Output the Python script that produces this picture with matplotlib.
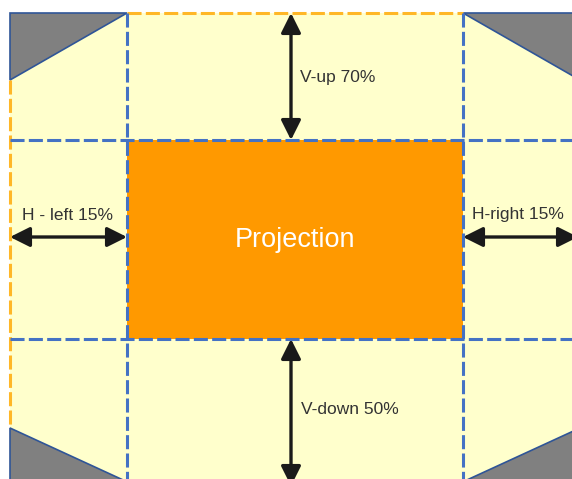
import matplotlib.pyplot as plt
from matplotlib.patches import Rectangle, Polygon, FancyArrowPatch

plt.rcParams['font.family'] = ['Liberation Sans', 'DejaVu Sans']

# layout in pixels of the original picture
W, H = 572, 479
left, top = 10, 13
x_in = [127, 463]     # inner vertical lines (projection edges)
y_in = [140, 339]     # inner horizontal lines

# corner triangles (keystone areas)
tri_tl = [(10, 13), (127, 13), (10, 80)]
tri_tr = [(463, 13), (580, 13), (580, 80)]
tri_bl = [(10, 428), (10, 485), (134, 485)]
tri_br = [(580, 428), (580, 485), (456, 485)]

labels = ["V-up 70%", "V-down 50%", "H - left 15%", "H-right 15%"]

yellow = '#FFFFCC'
orange = '#FF9900'
blue = '#4472C4'
dash_orange = '#FFB727'
gray = '#808080'
edge = '#2F5597'
arrow_c = '#1A1A1A'
text_c = '#333333'

fig = plt.figure(figsize=(W / 100, H / 100), dpi=100)
ax = fig.add_axes([0, 0, 1, 1])
ax.set_xlim(0, W)
ax.set_ylim(H, 0)
ax.axis('off')

ax.add_patch(Rectangle((left, top), W + 20 - left, H + 20 - top, facecolor=yellow, edgecolor='none', zorder=1))

for tri in [tri_tl, tri_tr, tri_bl, tri_br]:
    ax.add_patch(Polygon(tri, closed=True, facecolor=gray, edgecolor=edge, lw=1.2, zorder=2))

ax.add_patch(Rectangle((x_in[0], y_in[0]), x_in[1] - x_in[0], y_in[1] - y_in[0],
                       facecolor=orange, edgecolor='none', zorder=3))

dash = (0, (4.6, 1.4))
lw = 2.2
# outer orange dashed border
ax.plot([x_in[0], x_in[1]], [top, top], color=dash_orange, lw=lw, ls=dash, zorder=4)
ax.plot([left, left], [80, 428], color=dash_orange, lw=lw, ls=dash, zorder=4)

# blue dashed grid
for x in x_in:
    ax.plot([x, x], [top, H + 5], color=blue, lw=lw, ls=dash, zorder=5)
for y in y_in:
    ax.plot([left, W + 5], [y, y], color=blue, lw=lw, ls=dash, zorder=5)

ax.text((x_in[0] + x_in[1]) / 2, 240, "Projection", color='white', fontsize=19.5,
        ha='center', va='center', zorder=6)


def double_arrow(p0, p1):
    a = FancyArrowPatch(p0, p1, arrowstyle='<|-|>,head_length=1.0,head_width=0.5',
                        mutation_scale=12, lw=2.4, color=arrow_c, shrinkA=0, shrinkB=0, zorder=7)
    ax.add_patch(a)


double_arrow((291, top), (291, y_in[0]))
double_arrow((291, y_in[1]), (291, 486))
double_arrow((left, 237), (x_in[0], 237))
double_arrow((x_in[1], 237), (578, 237))

ax.text(300, 77, labels[0], color=text_c, fontsize=12.5, ha='left', va='center', zorder=8)
ax.text(301, 410, labels[1], color=text_c, fontsize=12.5, ha='left', va='center', zorder=8)
ax.text(68, 215, labels[2], color=text_c, fontsize=12.5, ha='center', va='center', zorder=8)
ax.text(472, 215, labels[3], color=text_c, fontsize=12.5, ha='left', va='center', zorder=8)

fig.savefig('out.png', dpi=100)
